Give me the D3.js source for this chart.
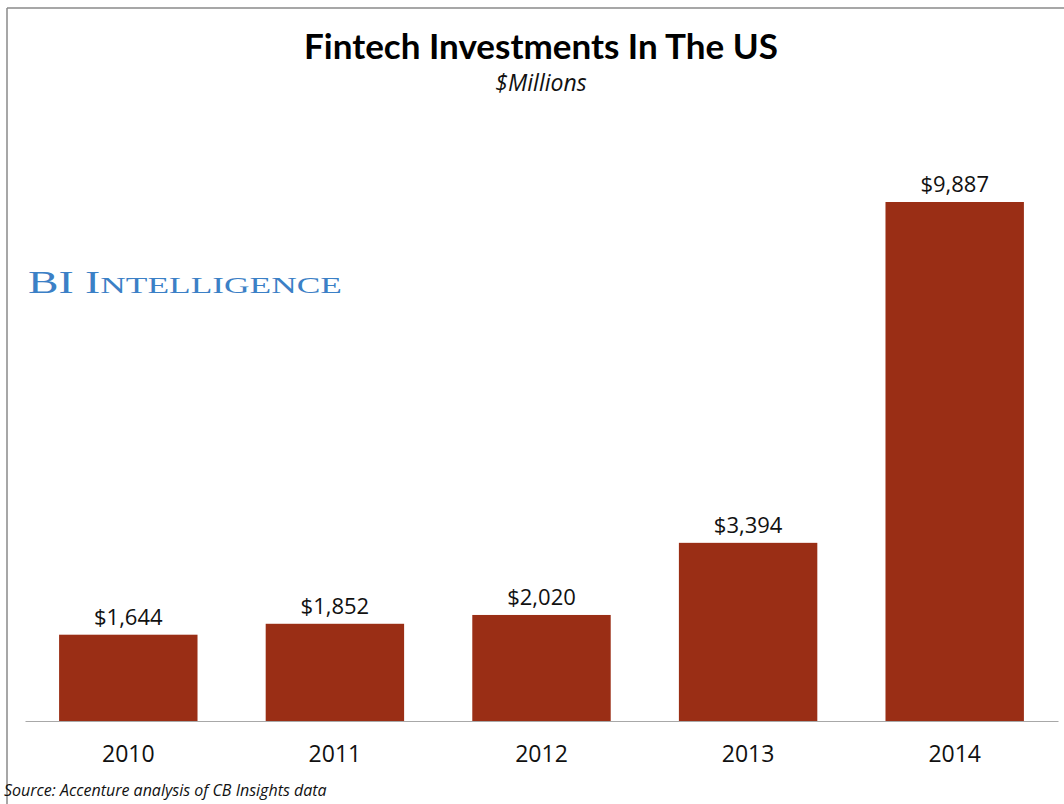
<!DOCTYPE html>
<html lang="en">
<head>
    <meta charset="UTF-8">
    <title>Fintech Investments In The US</title>
    <script src="https://d3js.org/d3.v7.min.js"></script>
    <style>
        body { margin: 0; background: white; }
        svg { display: block; }
    </style>
</head>
<body>
<svg width="1064" height="804"></svg>
<script>
    // Chart data
    const years = ["2010", "2011", "2012", "2013", "2014"];
    const investments = [1644, 1852, 2020, 3394, 9887];

    const data = years.map((year, i) => ({ year: year, value: investments[i] }));

    const svg = d3.select("svg");
    const baseline = 721;

    // frame lines (top and left)
    svg.append("line")
        .attr("x1", 7).attr("x2", 1064).attr("y1", 8).attr("y2", 8)
        .attr("stroke", "#8a8a8a").attr("stroke-width", 1.5);
    svg.append("line")
        .attr("x1", 7).attr("x2", 7).attr("y1", 8).attr("y2", 804)
        .attr("stroke", "#8a8a8a").attr("stroke-width", 1.5);

    const x = d3.scaleBand()
        .domain(years)
        .range([25, 1058])
        .paddingInner(0.33)
        .paddingOuter(0.165);

    const y = d3.scaleLinear()
        .domain([0, d3.max(investments)])
        .range([baseline, 202]);

    // Title
    svg.append("text")
        .attr("x", 541).attr("y", 59)
        .attr("text-anchor", "middle")
        .style("font-family", "Lato, 'Open Sans', sans-serif")
        .style("font-weight", "bold")
        .style("font-size", "35px")
        .style("fill", "#000")
        .text("Fintech Investments In The US");

    svg.append("text")
        .attr("x", 541).attr("y", 91)
        .attr("text-anchor", "middle")
        .style("font-family", "'Open Sans', sans-serif")
        .style("font-style", "italic")
        .style("font-size", "23px")
        .style("fill", "#111")
        .text("$Millions");

    // Brand mark
    const brand = svg.append("text")
        .attr("x", 28).attr("y", 293)
        .attr("textLength", 314)
        .attr("lengthAdjust", "spacingAndGlyphs")
        .style("font-family", "'Liberation Serif', 'DejaVu Serif', serif")
        .style("fill", "#3b80c6");
    brand.append("tspan").style("font-size", "31px").text("BI I");
    brand.append("tspan").style("font-size", "24px").text("NTELLIGENCE");

    // Bars
    svg.append("g")
        .selectAll("rect")
        .data(data)
        .join("rect")
        .attr("x", d => x(d.year))
        .attr("y", d => y(d.value))
        .attr("width", x.bandwidth())
        .attr("height", d => baseline - y(d.value))
        .attr("fill", "#9a2e15");

    // Value labels
    svg.append("g")
        .selectAll("text")
        .data(data)
        .join("text")
        .attr("x", d => x(d.year) + x.bandwidth() / 2)
        .attr("y", d => y(d.value) - 10)
        .attr("text-anchor", "middle")
        .style("font-family", "'Open Sans', sans-serif")
        .style("font-size", "22px")
        .style("fill", "#111")
        .text(d => "$" + d3.format(",")(d.value));

    // x-axis
    const axis = svg.append("g")
        .attr("transform", `translate(0,${baseline})`)
        .call(d3.axisBottom(x).tickSize(0).tickPadding(25));
    axis.select(".domain").attr("stroke", "#a8a8a8").attr("stroke-width", 1.2);
    axis.selectAll("text")
        .style("font-family", "'Open Sans', sans-serif")
        .style("font-size", "23px")
        .style("fill", "#111");

    // Source
    svg.append("text")
        .attr("x", 4).attr("y", 796)
        .style("font-family", "'Open Sans', sans-serif")
        .style("font-style", "italic")
        .style("font-size", "16px")
        .style("fill", "#111")
        .text("Source: Accenture analysis of CB Insights data");
</script>
</body>
</html>
